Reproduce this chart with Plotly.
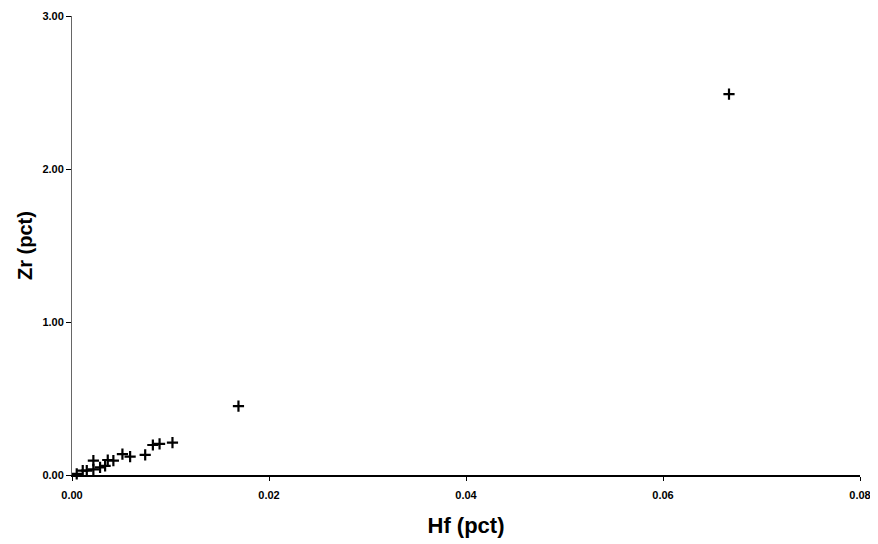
import plotly.graph_objects as go

hf_pct = [0.00048, 0.00109, 0.0015, 0.00217, 0.00217, 0.00285, 0.00336, 0.00363,
          0.0042, 0.00512, 0.0059, 0.00743, 0.00821, 0.00889, 0.0102, 0.0169, 0.0667]
zr_pct = [0.007, 0.028, 0.028, 0.037, 0.094, 0.05, 0.059, 0.098,
          0.094, 0.137, 0.12, 0.131, 0.196, 0.203, 0.211, 0.45, 2.49]

x_ticks = [0.0, 0.02, 0.04, 0.06, 0.08]
x_tick_labels = ["0.00", "0.02", "0.04", "0.06", "0.08"]
y_ticks = [0.0, 1.0, 2.0, 3.0]
y_tick_labels = ["0.00", "1.00", "2.00", "3.00"]

fig = go.Figure()
fig.add_trace(go.Scatter(
    x=hf_pct, y=zr_pct, mode="markers",
    marker=dict(symbol="cross-thin", size=8, color="black",
                line=dict(color="black", width=2.2)),
    showlegend=False, cliponaxis=False,
))

fam = "Liberation Sans, Arial, sans-serif"
tickfont = dict(size=11, family=fam, color="black", weight="bold")
fig.update_layout(
    width=870, height=536,
    margin=dict(l=64, r=18, t=8, b=69),
    paper_bgcolor="white", plot_bgcolor="white",
    font=dict(family=fam, color="black"),
    xaxis=dict(
        range=[0, 0.08], tickvals=x_ticks, ticktext=x_tick_labels, automargin=False,
        showgrid=False, zeroline=False, showline=True, linecolor="black", linewidth=2,
        ticks="outside", ticklen=4, tickwidth=1, tickcolor="black",
        ticklabelstandoff=5,
        tickfont=tickfont,
        title=dict(text="Hf (pct)", font=dict(size=22, family=fam, weight="bold"), standoff=17),
    ),
    yaxis=dict(
        range=[0, 3], tickvals=y_ticks, ticktext=y_tick_labels, automargin=False,
        showgrid=False, zeroline=False, showline=True, linecolor="#666666", linewidth=1,
        ticks="outside", ticklen=5, tickwidth=1, tickcolor="black",
        tickfont=tickfont,
        title=dict(text="Zr (pct)", font=dict(size=20, family=fam, weight="bold"), standoff=4),
    ),
)

fig.write_html("out.html")
